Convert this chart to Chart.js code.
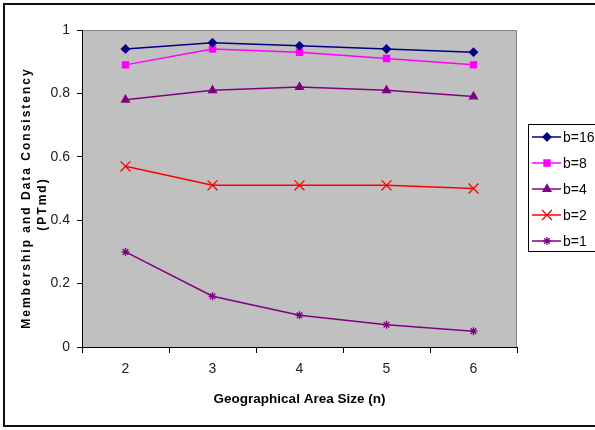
<!DOCTYPE html>
<html>
<head>
<meta charset="utf-8">
<script src="https://cdn.jsdelivr.net/npm/chart.js@4.4.1/dist/chart.umd.min.js"></script>
<style>
  html, body { margin: 0; padding: 0; background: #fff; }
  #wrap { width: 595px; height: 430px; }
</style>
</head>
<body>
<div id="wrap"><canvas id="myChart" width="595" height="430"></canvas></div>
<script>
// data
var areaSizes = ["2", "3", "4", "5", "6"];
var b16 = [0.94, 0.96, 0.95, 0.94, 0.93];
var b8 = [0.89, 0.94, 0.93, 0.91, 0.89];
var b4 = [0.78, 0.81, 0.82, 0.81, 0.79];
var b2 = [0.57, 0.51, 0.51, 0.51, 0.50];
var b1 = [0.30, 0.16, 0.10, 0.07, 0.05];
var seriesNames = ["b=16", "b=8", "b=4", "b=2", "b=1"];
var yTicks = ["0", "0.2", "0.4", "0.6", "0.8", "1"];
var yTitle = ["Membership and Data Consistency", "(PTmd)"];
var xTitle = "Geographical Area Size (n)";

var FONT = "'Liberation Sans', Arial, sans-serif";

function makeSet(name, values, color, style, radius) {
    return {
        label: name,
        data: values,
        borderColor: color,
        backgroundColor: color,
        pointBackgroundColor: color,
        pointBorderColor: color,
        pointStyle: style,
        pointRadius: radius,
        pointHoverRadius: radius,
        pointBorderWidth: 1.3,
        borderWidth: 1.5,
        tension: 0,
        fill: false
    };
}

var sets = [
    makeSet(seriesNames[0], b16, "#000080", "rectRot", 4),
    makeSet(seriesNames[1], b8, "#FF00FF", "rect", 4.3),
    makeSet(seriesNames[2], b4, "#800080", "triangle", 4.5),
    makeSet(seriesNames[3], b2, "#FF0000", "crossRot", 7),
    makeSet(seriesNames[4], b1, "#800080", "star", 4)
];

// grey plot background, frame, y title and legend box
var decor = {
    id: "decor",
    beforeDraw: function (chart) {
        var ctx = chart.ctx, a = chart.chartArea;
        ctx.save();
        ctx.fillStyle = "#fff";
        ctx.fillRect(0, 0, chart.width, chart.height);
        ctx.fillStyle = "#C0C0C0";
        ctx.fillRect(a.left, a.top, a.right - a.left, a.bottom - a.top);
        ctx.strokeStyle = "#808080";
        ctx.lineWidth = 1;
        ctx.beginPath();
        ctx.moveTo(a.left, a.top + 0.5);
        ctx.lineTo(a.right - 0.5, a.top + 0.5);
        ctx.lineTo(a.right - 0.5, a.bottom);
        ctx.stroke();
        ctx.restore();
    },
    afterDraw: function (chart) {
        var ctx = chart.ctx;
        ctx.save();
        // outer frame
        ctx.strokeStyle = "#111";
        ctx.lineWidth = 2;
        ctx.beginPath();
        ctx.moveTo(chart.width + 5, 4);
        ctx.lineTo(4, 4);
        ctx.lineTo(4, 426);
        ctx.lineTo(chart.width + 5, 426);
        ctx.stroke();

        // y axis title, spaced letters
        ctx.translate(27, 198);
        ctx.rotate(-Math.PI / 2);
        ctx.font = "bold 12px " + FONT;
        ctx.letterSpacing = "2px";
        ctx.fillStyle = "#000";
        ctx.textAlign = "center";
        ctx.textBaseline = "middle";
        ctx.fillText(yTitle[0], 0, 0);
        ctx.fillText(yTitle[1], -6, 16);
        ctx.restore();

        // legend
        ctx.save();
        ctx.strokeStyle = "#000";
        ctx.lineWidth = 1;
        ctx.strokeRect(528.5, 124.5, 70, 127);
        ctx.font = "14px " + FONT;
        ctx.textBaseline = "middle";
        ctx.textAlign = "left";
        chart.data.datasets.forEach(function (ds, i) {
            var y = 137 + i * 26;
            ctx.strokeStyle = ds.borderColor;
            ctx.lineWidth = 1.5;
            ctx.beginPath();
            ctx.moveTo(532, y);
            ctx.lineTo(561, y);
            ctx.stroke();
            ctx.fillStyle = ds.borderColor;
            ctx.lineWidth = 1.3;
            Chart.helpers.drawPoint(ctx, {
                pointStyle: ds.pointStyle,
                radius: ds.pointRadius,
                rotation: 0,
                borderWidth: 1.3
            }, 547, y);
            ctx.fillStyle = "#000";
            ctx.fillText(ds.label, 563, y + 1);
        });
        ctx.restore();
    }
};

var myChart = document.getElementById("myChart").getContext("2d");
var lineChart = new Chart(myChart, {
    type: "line",
    data: {
        labels: areaSizes,
        datasets: sets
    },
    plugins: [decor],
    options: {
        responsive: false,
        animation: false,
        layout: {
            padding: { top: 30, right: 78, left: 0, bottom: 0 }
        },
        plugins: {
            legend: { display: false },
            tooltip: { enabled: false }
        },
        scales: {
            x: {
                offset: true,
                afterFit: function (scale) { scale.height = 83; },
                grid: {
                    offset: true,
                    drawOnChartArea: false,
                    drawTicks: true,
                    tickLength: 6,
                    color: "#000"
                },
                border: { color: "#000", width: 1 },
                ticks: {
                    padding: 8,
                    color: "#222",
                    font: { family: FONT, size: 14 }
                },
                title: {
                    display: true,
                    text: xTitle,
                    color: "#000",
                    font: { family: FONT, size: 13.5, weight: "bold" },
                    padding: { top: 0, bottom: 23 }
                }
            },
            y: {
                min: 0,
                max: 1,
                afterFit: function (scale) { scale.width = 82; },
                grid: {
                    drawOnChartArea: false,
                    drawTicks: true,
                    tickLength: 5,
                    color: "#000"
                },
                border: { color: "#000", width: 1 },
                ticks: {
                    stepSize: 0.2,
                    padding: 7,
                    color: "#222",
                    font: { family: FONT, size: 14 },
                    callback: function (value, index) { return yTicks[index]; }
                }
            }
        }
    }
});
</script>
</body>
</html>
